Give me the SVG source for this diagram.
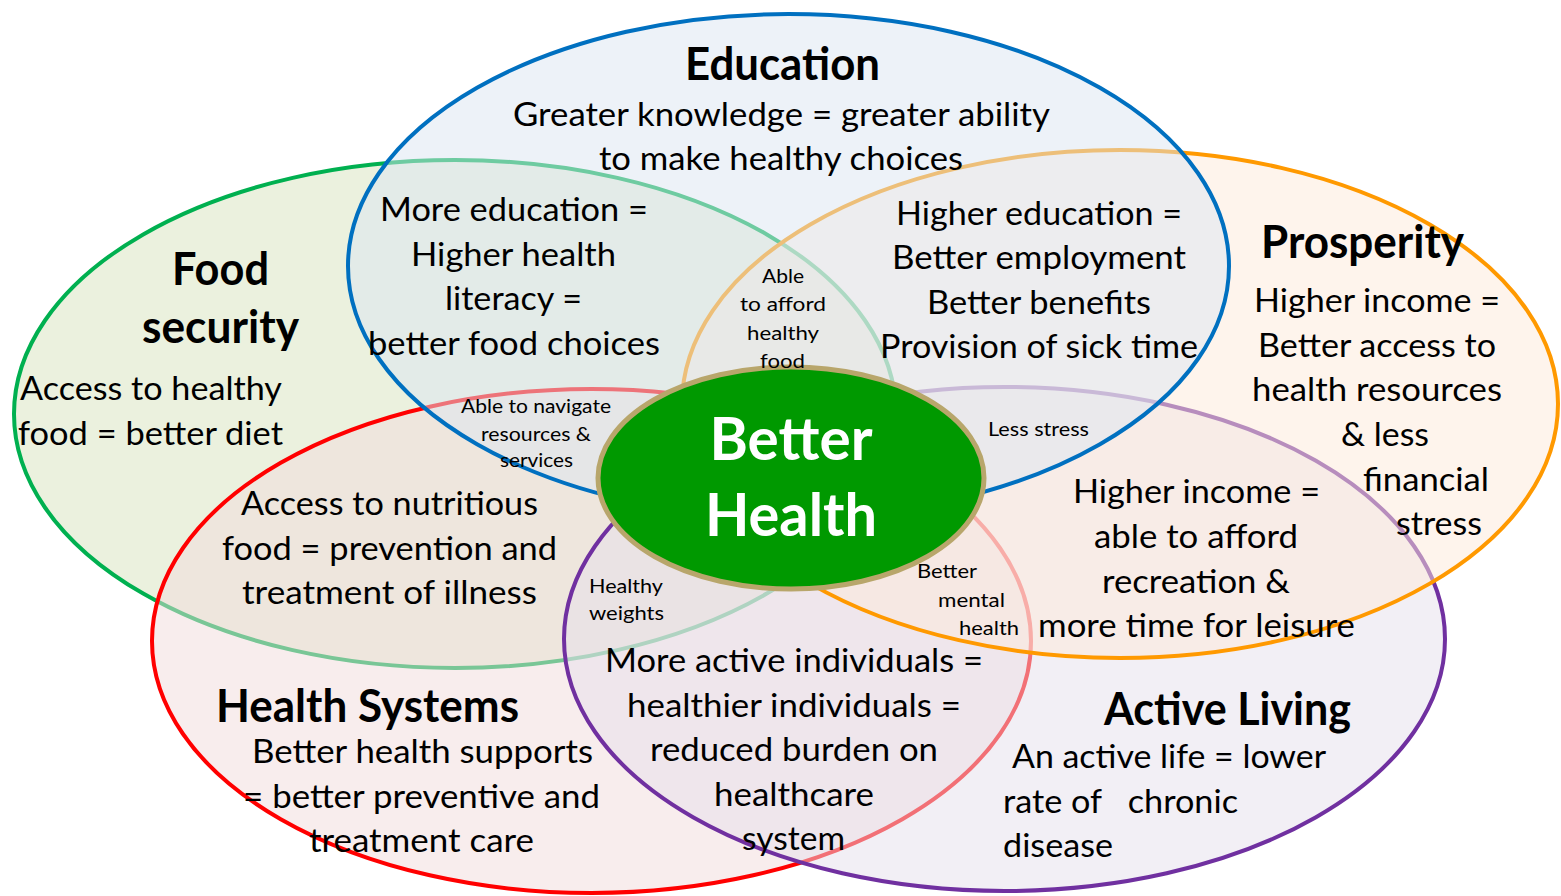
<svg xmlns="http://www.w3.org/2000/svg" width="1561" height="896" viewBox="0 0 1561 896">
<style>
.c{stroke-width:4;fill-opacity:0.5}
.t{font-family:Lato,"Open Sans","Liberation Sans",sans-serif;font-size:32px;fill:#000;text-anchor:middle}
.b{font-weight:bold;font-size:45px}
.s{font-size:19.5px}
.w{font-family:Lato,"Open Sans","Liberation Sans",sans-serif;font-weight:bold;font-size:60px;fill:#fff;text-anchor:middle}
</style>
<rect width="1561" height="896" fill="#fff"/>
<g id="connectors"/>
<g id="food-security"><ellipse class="c" cx="455" cy="414" rx="441" ry="254" fill="#d7e4bd" stroke="#00b050"/></g>
<g id="health-systems"><ellipse class="c" cx="591.5" cy="641" rx="439.5" ry="252" fill="#f2dcdb" stroke="#ff0000"/></g>
<g id="active-living"><ellipse class="c" cx="1004.5" cy="639" rx="440.5" ry="252" fill="#e5e0ec" stroke="#7030a0"/></g>
<g id="prosperity"><ellipse class="c" cx="1120" cy="404" rx="438" ry="254" fill="#fde9d9" stroke="#ff9900"/></g>
<g id="education"><ellipse class="c" cx="788.5" cy="266" rx="440.5" ry="252" fill="#dce6f2" stroke="#0070c0"/></g>
<g id="better-health">
<ellipse cx="791" cy="478" rx="193" ry="111" fill="#009900" stroke="#b8a66b" stroke-width="5"/>
<text class="w" x="791" y="460" textLength="163" lengthAdjust="spacingAndGlyphs">Better</text>
<text class="w" x="791" y="536" textLength="172" lengthAdjust="spacingAndGlyphs">Health</text>
</g>
<g id="labels">
<text class="t b" x="782.5" y="80" textLength="195" lengthAdjust="spacingAndGlyphs">Education</text>
<text class="t" x="781.5" y="126" textLength="537" lengthAdjust="spacingAndGlyphs">Greater knowledge = greater ability</text>
<text class="t" x="781" y="170" textLength="364" lengthAdjust="spacingAndGlyphs">to make healthy choices</text>

<text class="t" x="514" y="221" textLength="268" lengthAdjust="spacingAndGlyphs">More education =</text>
<text class="t" x="513.5" y="266" textLength="205" lengthAdjust="spacingAndGlyphs">Higher health</text>
<text class="t" x="513.5" y="310" textLength="137" lengthAdjust="spacingAndGlyphs">literacy =</text>
<text class="t" x="514" y="355" textLength="292" lengthAdjust="spacingAndGlyphs">better food choices</text>

<text class="t" x="1039" y="225" textLength="286" lengthAdjust="spacingAndGlyphs">Higher education =</text>
<text class="t" x="1039" y="269" textLength="294" lengthAdjust="spacingAndGlyphs">Better employment</text>
<text class="t" x="1039" y="314" textLength="224" lengthAdjust="spacingAndGlyphs">Better benefits</text>
<text class="t" x="1039" y="358" textLength="318" lengthAdjust="spacingAndGlyphs">Provision of sick time</text>

<text class="t s" x="783" y="283" textLength="42" lengthAdjust="spacingAndGlyphs">Able</text>
<text class="t s" x="783" y="311" textLength="86" lengthAdjust="spacingAndGlyphs">to afford</text>
<text class="t s" x="783" y="340" textLength="72" lengthAdjust="spacingAndGlyphs">healthy</text>
<text class="t s" x="782.5" y="368" textLength="45" lengthAdjust="spacingAndGlyphs">food</text>

<text class="t b" x="220.5" y="285" textLength="97" lengthAdjust="spacingAndGlyphs">Food</text>
<text class="t b" x="220.5" y="343" textLength="157" lengthAdjust="spacingAndGlyphs">security</text>
<text class="t" x="151" y="400" textLength="262" lengthAdjust="spacingAndGlyphs">Access to healthy</text>
<text class="t" x="150.5" y="445" textLength="265" lengthAdjust="spacingAndGlyphs">food = better diet</text>

<text class="t b" x="1362.5" y="258" textLength="203" lengthAdjust="spacingAndGlyphs">Prosperity</text>
<text class="t" x="1377" y="312" textLength="246" lengthAdjust="spacingAndGlyphs">Higher income =</text>
<text class="t" x="1377" y="357" textLength="238" lengthAdjust="spacingAndGlyphs">Better access to</text>
<text class="t" x="1377" y="401" textLength="250" lengthAdjust="spacingAndGlyphs">health resources</text>
<text class="t" x="1385" y="446" textLength="88" lengthAdjust="spacingAndGlyphs">&amp; less</text>
<text class="t" x="1426" y="491" textLength="126" lengthAdjust="spacingAndGlyphs">financial</text>
<text class="t" x="1439" y="535" textLength="86" lengthAdjust="spacingAndGlyphs">stress</text>

<text class="t s" x="536" y="413" textLength="150" lengthAdjust="spacingAndGlyphs">Able to navigate</text>
<text class="t s" x="536" y="441" textLength="110" lengthAdjust="spacingAndGlyphs">resources &amp;</text>
<text class="t s" x="536.5" y="467" textLength="73" lengthAdjust="spacingAndGlyphs">services</text>
<text class="t s" x="1038.5" y="436" textLength="101" lengthAdjust="spacingAndGlyphs">Less stress</text>

<text class="t" x="389.5" y="515" textLength="297" lengthAdjust="spacingAndGlyphs">Access to nutritious</text>
<text class="t" x="389.5" y="560" textLength="335" lengthAdjust="spacingAndGlyphs">food = prevention and</text>
<text class="t" x="389.5" y="604" textLength="295" lengthAdjust="spacingAndGlyphs">treatment of illness</text>

<text class="t s" x="626" y="593" textLength="74" lengthAdjust="spacingAndGlyphs">Healthy</text>
<text class="t s" x="626.5" y="620" textLength="75" lengthAdjust="spacingAndGlyphs">weights</text>

<text class="t s" x="947" y="578" textLength="60" lengthAdjust="spacingAndGlyphs">Better</text>
<text class="t s" x="971.5" y="607" textLength="67" lengthAdjust="spacingAndGlyphs">mental</text>
<text class="t s" x="989" y="635" textLength="60" lengthAdjust="spacingAndGlyphs">health</text>

<text class="t" x="1196.5" y="503" textLength="247" lengthAdjust="spacingAndGlyphs">Higher income =</text>
<text class="t" x="1196" y="548" textLength="204" lengthAdjust="spacingAndGlyphs">able to afford</text>
<text class="t" x="1196" y="593" textLength="188" lengthAdjust="spacingAndGlyphs">recreation &amp;</text>
<text class="t" x="1196.5" y="637" textLength="317" lengthAdjust="spacingAndGlyphs">more time for leisure</text>

<text class="t b" x="367.5" y="722" textLength="303" lengthAdjust="spacingAndGlyphs">Health Systems</text>
<text class="t" x="422.5" y="763" textLength="341" lengthAdjust="spacingAndGlyphs">Better health supports</text>
<text class="t" x="421.5" y="808" textLength="357" lengthAdjust="spacingAndGlyphs">= better preventive and</text>
<text class="t" x="421.5" y="852" textLength="225" lengthAdjust="spacingAndGlyphs">treatment care</text>

<text class="t" x="794" y="672" textLength="378" lengthAdjust="spacingAndGlyphs">More active individuals =</text>
<text class="t" x="794" y="717" textLength="334" lengthAdjust="spacingAndGlyphs">healthier individuals =</text>
<text class="t" x="794" y="761" textLength="288" lengthAdjust="spacingAndGlyphs">reduced burden on</text>
<text class="t" x="794" y="806" textLength="160" lengthAdjust="spacingAndGlyphs">healthcare</text>
<text class="t" x="793.5" y="850" textLength="103" lengthAdjust="spacingAndGlyphs">system</text>

<text class="t b" x="1227.5" y="725" textLength="247" lengthAdjust="spacingAndGlyphs">Active Living</text>
<text class="t" x="1169" y="768" textLength="314" lengthAdjust="spacingAndGlyphs">An active life = lower</text>
<text class="t" x="1003" y="813" style="text-anchor:start;white-space:pre" textLength="235" lengthAdjust="spacingAndGlyphs">rate of   chronic</text>
<text class="t" x="1003" y="857" style="text-anchor:start" textLength="110" lengthAdjust="spacingAndGlyphs">disease</text>
</g>
</svg>
